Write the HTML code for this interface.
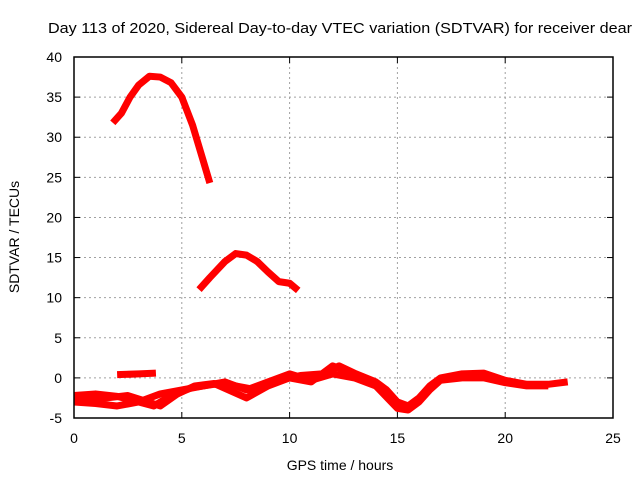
<!DOCTYPE html>
<html><head><meta charset="utf-8"><style>
body{margin:0;background:#fff;}
svg{display:block;font-family:"Liberation Sans",sans-serif;}
</style></head><body>
<svg id="c" width="640" height="480">
<text x="48" y="33" font-size="15" textLength="584" lengthAdjust="spacingAndGlyphs">Day 113 of 2020, Sidereal Day-to-day VTEC variation (SDTVAR) for receiver dear</text>
<text x="340" y="470" font-size="14" text-anchor="middle">GPS time / hours</text>
<text transform="translate(19,237) rotate(-90)" font-size="14" text-anchor="middle">SDTVAR / TECUs</text>
<g id="grid"></g><g id="series"></g>
<rect x="74" y="57" width="539" height="361" fill="none" stroke="#000" stroke-width="1.5"/>
</svg>
<script>
const xTicks=[0,5,10,15,20,25];
const yTicks=[-5,0,5,10,15,20,25,30,35,40];
const sA_x=[1.8,2.2,2.6,3,3.5,4,4.5,5,5.5,6,6.3];
const sA_y=[31.8,33,35,36.5,37.6,37.5,36.8,35,31.5,27,24.3];
const sB_x=[5.8,6.3,7,7.5,8,8.5,9,9.5,10,10.4];
const sB_y=[11,12.5,14.5,15.5,15.3,14.5,13.2,12,11.8,10.9];
const sC_x=[2,3,3.8];
const sC_y=[0.4,0.5,0.6];
const sD_x=[0,1,2,3,3.7,4.5,5.5,6.5,7.5,8.5,9.5,10.5,11.5,12.3,13,14,14.5,15,15.5,16,16.5,17,18,19,20,21,22,22.9];
const sD_y=[-2.2,-2,-2.3,-3,-3.5,-2.2,-1.2,-0.8,-1,-1.5,-0.3,0.3,0.5,1.5,0.6,-0.5,-1.5,-3,-3.5,-2.5,-1,0,0.5,0.6,-0.3,-0.8,-0.8,-0.5];
const sE_x=[0,1,2,3,4,5,6,7,8,9,10,11,12,13,14,15,15.5,16,16.5,17,18,19,20,21,22];
const sE_y=[-3,-3.2,-3.5,-3,-2,-1.5,-1,-0.5,-1.5,-0.5,0.5,-0.3,0.5,0,-1,-3.8,-4,-3,-1.5,-0.3,0,0,-0.6,-1,-1];
const sF_x=[0,1.5,2.5,3.2,4,4.8,5.6,6.5,8,9,10,11,12,12.5,13.5,14.5];
const sF_y=[-2.8,-2.5,-2.2,-2.8,-3.5,-2,-1,-0.7,-2.5,-1,0,-0.5,1.5,1,0,-1.5];
const NS="http://www.w3.org/2000/svg";
const X=h=>74+h*539/25, Y=v=>57+(40-v)*361/45;
const g=document.getElementById('grid'), s=document.getElementById('series');
function el(t,a,p){const e=document.createElementNS(NS,t);for(const k in a)e.setAttribute(k,a[k]);p.appendChild(e);return e;}
xTicks.forEach(t=>{
 if(t>0&&t<25){const l=el('line',{x1:X(t),x2:X(t),y1:57,y2:418,stroke:'#a0a0a0','stroke-dasharray':'2,3'},g);
 
 }
 el('line',{x1:X(t),x2:X(t),y1:418,y2:412,stroke:'#000'},g);
 el('line',{x1:X(t),x2:X(t),y1:57,y2:63,stroke:'#000'},g);
 const tx=el('text',{x:X(t),y:443,'font-size':14,'text-anchor':'middle'},g);tx.textContent=t;
 
 
});
yTicks.forEach(t=>{
 if(t>-5&&t<40){const l=el('line',{x1:74,x2:613,y1:Y(t),y2:Y(t),stroke:'#a0a0a0','stroke-dasharray':'2,3'},g);
 
 }
 el('line',{x1:74,x2:80,y1:Y(t),y2:Y(t),stroke:'#000'},g);
 el('line',{x1:607,x2:613,y1:Y(t),y2:Y(t),stroke:'#000'},g);
 const tx=el('text',{x:62,y:Y(t)+5,'font-size':14,'text-anchor':'end'},g);tx.textContent=t;
 
 
});
[[sA_x,sA_y],[sB_x,sB_y],[sC_x,sC_y],[sD_x,sD_y],[sE_x,sE_y],[sF_x,sF_y]].forEach((d,i)=>{
 const pts=d[0].map((h,j)=>X(h)+','+Y(d[1][j])).join(' ');
 const p=el('polyline',{points:pts,fill:'none',stroke:'#ff0000','stroke-width':7,'stroke-linejoin':'round'},s);
 
 
});
</script>
</body></html>
